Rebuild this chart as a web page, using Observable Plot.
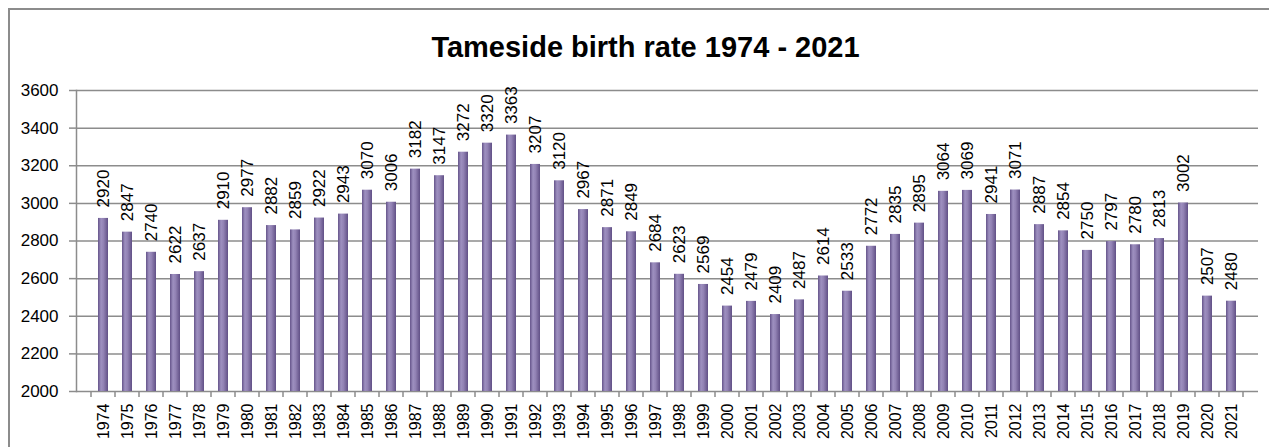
<!DOCTYPE html>
<html><head><meta charset="utf-8">
<script src="https://cdn.jsdelivr.net/npm/d3@7"></script>
<script src="https://cdn.jsdelivr.net/npm/@observablehq/plot@0.6"></script>
<style>
html,body{margin:0;padding:0;background:#fff;overflow:hidden;}
#wrap{position:relative;width:1269px;height:447px;overflow:hidden;font-family:"Liberation Sans",Arial,sans-serif;}
#frame{position:absolute;left:8px;top:8px;width:1300px;height:500px;border:2px solid #8c8c8c;box-sizing:border-box;}
#title{position:relative;height:70px;box-sizing:border-box;padding-top:31px;padding-left:22px;text-align:center;font-size:29px;font-weight:bold;line-height:32px;color:#000;}
#chart{position:relative;}
</style></head>
<body><div id="wrap"><div id="frame"></div><div id="title">Tameside birth rate 1974 - 2021</div><div id="chart"></div></div>
<script>
const years = [1974,1975,1976,1977,1978,1979,1980,1981,1982,1983,1984,1985,1986,1987,1988,1989,1990,1991,1992,1993,1994,1995,1996,1997,1998,1999,2000,2001,2002,2003,2004,2005,2006,2007,2008,2009,2010,2011,2012,2013,2014,2015,2016,2017,2018,2019,2020,2021];
const births = [2920,2847,2740,2622,2637,2910,2977,2882,2859,2922,2943,3070,3006,3182,3147,3272,3320,3363,3207,3120,2967,2871,2849,2684,2623,2569,2454,2479,2409,2487,2614,2533,2772,2835,2895,3064,3069,2941,3071,2887,2854,2750,2797,2780,2813,3002,2507,2480];
const yTicks = [2000,2200,2400,2600,2800,3000,3200,3400,3600];
const yBase = 2000;

const data = years.map((y, i) => ({year: String(y), value: births[i]}));
const gridColor = "#8c8c8c";

const defs = () => {
  const d = d3.create("svg:defs");
  const g = d.append("linearGradient").attr("id", "barGrad").attr("x1", "0").attr("x2", "1").attr("y1", "0").attr("y2", "0");
  [["0%", "#65548a"], ["30%", "#9e90c0"], ["55%", "#9282b4"], ["100%", "#615086"]].forEach(([o, c]) =>
    g.append("stop").attr("offset", o).attr("stop-color", c));
  return d.node();
};

const boundaryTicks = (index, scales, values, dimensions) => {
  const x = scales.x;
  const bw = x.bandwidth ? x.bandwidth() : 0;
  const step = x(data[1].year) - x(data[0].year);
  const yb = dimensions.height - dimensions.marginBottom;
  const g = d3.create("svg:g").attr("stroke", gridColor).attr("stroke-width", 1.5);
  const xs = data.map(d => x(d.year) + bw / 2 - step / 2);
  xs.push(x(data[data.length - 1].year) + bw / 2 + step / 2);
  xs.forEach(v => g.append("line").attr("x1", v).attr("x2", v).attr("y1", yb).attr("y2", yb + 6));
  return g.node();
};

const chart = Plot.plot({
  width: 1269,
  height: 377,
  marginTop: 20,
  marginBottom: 56,
  marginLeft: 76,
  marginRight: 11,
  style: {fontFamily: '"Liberation Sans", Arial, sans-serif', fontSize: "16px", color: "#000", background: "transparent", overflow: "visible"},
  x: {domain: data.map(d => d.year), paddingInner: 0.58, paddingOuter: 0.29, label: null},
  y: {domain: [yTicks[0], yTicks[yTicks.length - 1]], label: null},
  marks: [
    defs,
    Plot.ruleY(yTicks, {stroke: gridColor, strokeWidth: 1.5}),
    Plot.frame({anchor: "left", stroke: gridColor, strokeWidth: 1.5}),
    Plot.barY(data, {x: "year", y1: () => yBase, y2: "value", fill: "url(#barGrad)"}),
    Plot.text(data, {x: "year", y: "value", text: d => String(d.value), rotate: -90, textAnchor: "start", lineAnchor: "middle", dy: -11, fill: "#000", fontSize: 17}),
    Plot.axisY({ticks: yTicks, tickSize: 7, tickPadding: 11, stroke: gridColor, strokeWidth: 1.5, fill: "#000", fontSize: 17, tickFormat: d => String(d), label: null}),
    Plot.axisX({tickSize: 0, tickRotate: -90, tickPadding: 12, fill: "#000", fontSize: 16, label: null}),
    boundaryTicks
  ]
});
document.getElementById("chart").appendChild(chart);
</script>
</body></html>
